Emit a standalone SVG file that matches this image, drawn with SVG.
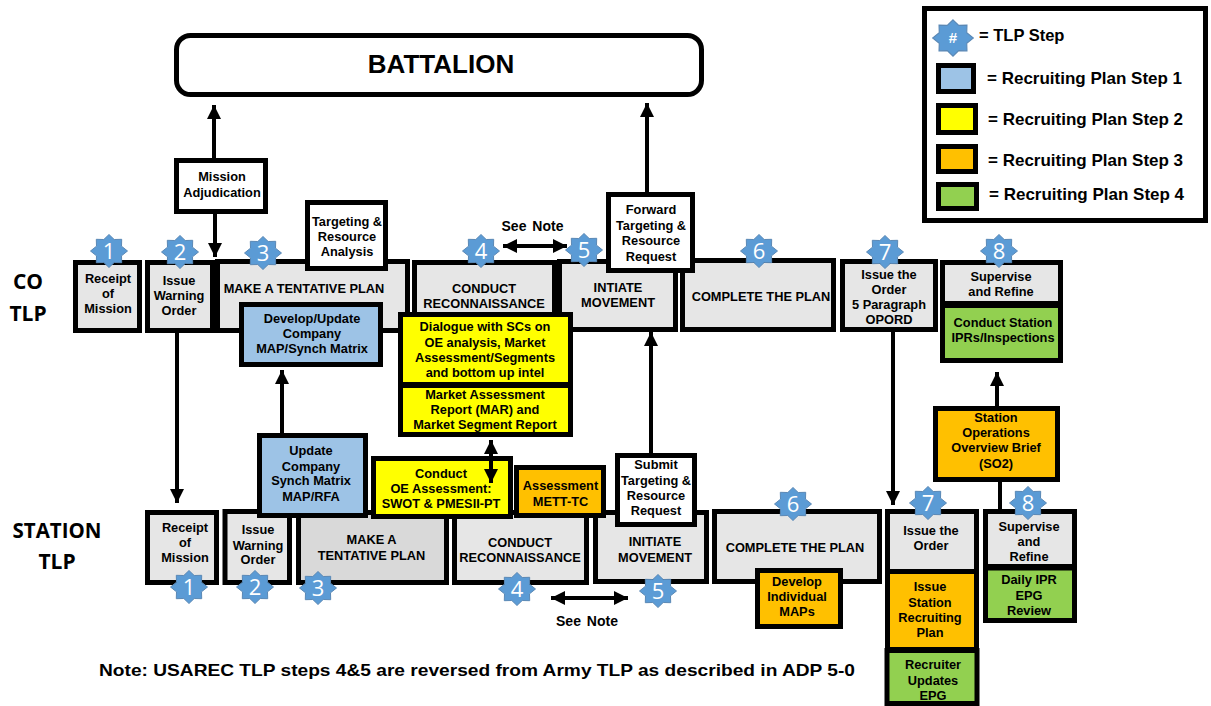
<svg xmlns="http://www.w3.org/2000/svg" width="1211" height="706" viewBox="0 0 1211 706">
<style>
rect{stroke:#000;stroke-width:5}
.w{fill:#fff}.g{fill:#e6e6e6}.d{fill:#d9d9d9}.b{fill:#9dc3e6}.y{fill:#ff0}.o{fill:#ffc000}.n{fill:#92d050}
text{font-family:"Liberation Sans",Arial,sans-serif;font-weight:700;font-size:12.800px;fill:#000;text-anchor:middle}
.leg{font-size:17px;text-anchor:start}
.big{font-family:"Open Sans","Noto Sans",sans-serif;font-size:21px;font-weight:700}
.num{font-family:"Open Sans","Noto Sans",sans-serif;font-weight:400;font-size:22px;fill:#fff}
.c line{stroke:#000;stroke-width:4;fill:none}
</style>
<defs>
<marker id="a" markerUnits="userSpaceOnUse" markerWidth="14" markerHeight="14" viewBox="0 0 14 14" refX="14" refY="7" orient="auto-start-reverse"><path d="M0 0L14 7L0 14Z" fill="#000"/></marker>
<polygon id="s" points="0,-16.500 5.200,-11.500 12.700,-11.700 12.500,-4.800 18.500,0 12.500,4.800 12.700,11.700 5.200,11.500 0,16.500 -5.200,11.500 -12.700,11.700 -12.500,4.800 -18.500,0 -12.500,-4.800 -12.700,-11.700 -5.200,-11.500" fill="#5b9bd5" stroke="#5a88b5" stroke-width="1"/>
</defs>
<rect width="1211" height="706" fill="#fff" style="stroke:none"/>

<g id="connectors" class="c">
<line x1="214" y1="158" x2="214" y2="105" marker-end="url(#a)"/>
<line x1="215" y1="214" x2="215" y2="257" marker-end="url(#a)"/>
<line x1="177" y1="333" x2="177" y2="503" marker-end="url(#a)"/>
<line x1="282" y1="433" x2="282" y2="370" marker-end="url(#a)"/>
<line x1="647" y1="192" x2="647" y2="103" marker-end="url(#a)"/>
<line x1="651" y1="453" x2="651" y2="332" marker-end="url(#a)"/>
<line x1="893" y1="332" x2="893" y2="505" marker-end="url(#a)"/>
<line x1="997" y1="406" x2="997" y2="372" marker-end="url(#a)"/>
<line x1="1000" y1="482" x2="1000" y2="509"/>
<line x1="491" y1="440" x2="491" y2="483" marker-start="url(#a)" marker-end="url(#a)"/>
<line x1="503" y1="246" x2="567" y2="246" marker-start="url(#a)" marker-end="url(#a)"/>
<line x1="551" y1="598" x2="628" y2="598" marker-start="url(#a)" marker-end="url(#a)"/>
</g>

<g id="battalion"><rect class="w" x="176.500" y="35.500" width="525" height="59" rx="14"/><text x="441" y="73" style="font-size:26px">BATTALION</text></g>

<g id="co-label"><text class="big" x="28" y="289">CO</text><text class="big" x="28" y="321">TLP</text></g>
<g id="station-label"><text class="big" x="57" y="538" textLength="89" lengthAdjust="spacingAndGlyphs">STATION</text><text class="big" x="57" y="569">TLP</text></g>

<g id="co-receipt"><rect class="g" x="75.500" y="262.500" width="64" height="68"/><text x="108" y="283">Receipt</text><text x="108" y="298">of</text><text x="108" y="313">Mission</text></g>
<g id="co-warning"><rect class="g" x="147.500" y="262.500" width="65" height="68"/><text x="179" y="285">Issue</text><text x="179" y="300">Warning</text><text x="179" y="315">Order</text></g>
<g id="co-plan"><rect class="g" x="217.500" y="261.500" width="190" height="69"/><text x="304" y="293">MAKE A TENTATIVE PLAN</text></g>
<g id="co-recon"><rect class="g" x="414.500" y="262.500" width="140" height="68"/><text x="484" y="293">CONDUCT</text><text x="484" y="308">RECONNAISSANCE</text></g>
<g id="co-move"><rect class="g" x="559.500" y="261.500" width="116" height="68"/><text x="618" y="292">INTIATE</text><text x="618" y="307">MOVEMENT</text></g>
<g id="co-complete"><rect class="g" x="682.500" y="260.500" width="151" height="69"/><text x="761" y="301">COMPLETE THE PLAN</text></g>
<g id="co-order"><rect class="g" x="842.500" y="261.500" width="93" height="68"/><text x="889" y="279">Issue the</text><text x="889" y="294">Order</text><text x="889" y="309">5 Paragraph</text><text x="889" y="324">OPORD</text></g>
<g id="co-supervise"><rect class="g" x="942.500" y="262.500" width="118" height="41"/><text x="1001" y="281">Supervise</text><text x="1001" y="296">and Refine</text></g>
<g id="co-ipr"><rect class="n" x="942.500" y="305.500" width="118" height="55"/><text x="1003" y="327">Conduct Station</text><text x="1003" y="342">IPRs/Inspections</text></g>
<g id="co-mission-adj"><rect class="w" x="176.500" y="160.500" width="89" height="51"/><text x="222" y="181">Mission</text><text x="222" y="197">Adjudication</text></g>
<g id="co-targeting"><rect class="w" x="307.500" y="202.500" width="78" height="66"/><text x="347" y="226">Targeting &amp;</text><text x="347" y="241">Resource</text><text x="347" y="256">Analysis</text></g>
<g id="co-forward"><rect class="w" x="608.500" y="194.500" width="84" height="76"/><text x="651" y="214">Forward</text><text x="651" y="230">Targeting &amp;</text><text x="651" y="245">Resource</text><text x="651" y="261">Request</text></g>
<g id="co-develop"><rect class="b" x="241.500" y="304.500" width="139" height="60"/><text x="312" y="323">Develop/Update</text><text x="312" y="338">Company</text><text x="312" y="353">MAP/Synch Matrix</text></g>
<g id="co-dialogue"><rect class="y" x="400.500" y="314.500" width="170" height="70"/><text x="485" y="331">Dialogue with SCs on</text><text x="485" y="347">OE analysis, Market</text><text x="485" y="362">Assessment/Segments</text><text x="485" y="377">and bottom up intel</text></g>
<g id="co-mar"><rect class="y" x="400.500" y="385.500" width="170" height="49"/><text x="485" y="399">Market Assessment</text><text x="485" y="414">Report (MAR) and</text><text x="485" y="429">Market Segment Report</text></g>

<g id="st-receipt"><rect class="g" x="147.500" y="512.500" width="69" height="70"/><text x="185" y="532">Receipt</text><text x="185" y="547">of</text><text x="185" y="562">Mission</text></g>
<g id="st-warning"><rect class="g" x="225" y="511.500" width="64.500" height="71"/><text x="258" y="534">Issue</text><text x="258" y="550">Warning</text><text x="258" y="564">Order</text></g>
<g id="st-plan"><rect class="d" x="298.500" y="512.500" width="148" height="70"/><text x="371.500" y="544">MAKE A</text><text x="371.500" y="560">TENTATIVE PLAN</text></g>
<g id="st-recon"><rect class="g" x="454.500" y="512.500" width="132" height="70"/><text x="520" y="547">CONDUCT</text><text x="520" y="562">RECONNAISSANCE</text></g>
<g id="st-move"><rect class="g" x="595.500" y="512.500" width="111" height="69"/><text x="655" y="546">INITIATE</text><text x="655" y="562">MOVEMENT</text></g>
<g id="st-complete"><rect class="g" x="714.500" y="511.500" width="165" height="70"/><text x="795" y="552">COMPLETE THE PLAN</text></g>
<g id="st-develop"><rect class="o" x="757.500" y="570.500" width="83" height="56"/><text x="797" y="586">Develop</text><text x="797" y="601">Individual</text><text x="797" y="616">MAPs</text></g>
<g id="st-order"><rect class="g" x="887.500" y="511.500" width="89" height="60"/><text x="931" y="535">Issue the</text><text x="931" y="550">Order</text></g>
<g id="st-issue-plan"><rect class="o" x="887.500" y="571.500" width="89" height="78"/><text x="930" y="591">Issue</text><text x="930" y="607">Station</text><text x="930" y="622">Recruiting</text><text x="930" y="637">Plan</text></g>
<g id="st-updates"><rect class="n" x="887" y="650.500" width="90" height="53"/><text x="933" y="669">Recruiter</text><text x="933" y="685">Updates</text><text x="933" y="700">EPG</text></g>
<g id="st-supervise"><rect class="g" x="985.500" y="511.500" width="89" height="55"/><text x="1029" y="531">Supervise</text><text x="1029" y="546">and</text><text x="1029" y="561">Refine</text></g>
<g id="st-daily"><rect class="n" x="985.500" y="568" width="89" height="52.500"/><text x="1029" y="584">Daily IPR</text><text x="1029" y="600">EPG</text><text x="1029" y="615">Review</text></g>
<g id="st-ops"><rect class="o" x="935.500" y="408.500" width="122" height="71"/><text x="996" y="422">Station</text><text x="996" y="437">Operations</text><text x="996" y="452">Overview Brief</text><text x="996" y="468">(SO2)</text></g>
<g id="st-submit"><rect class="w" x="617.500" y="455.500" width="77" height="69"/><text x="656" y="469">Submit</text><text x="656" y="485">Targeting &amp;</text><text x="656" y="500">Resource</text><text x="656" y="515">Request</text></g>
<g id="st-update"><rect class="b" x="259.500" y="435.500" width="106" height="80"/><text x="311" y="455">Update</text><text x="311" y="471">Company</text><text x="311" y="485">Synch Matrix</text><text x="311" y="501">MAP/RFA</text></g>
<g id="st-oe"><rect class="y" x="373.500" y="458.500" width="137" height="58"/><text x="441" y="478">Conduct</text><text x="441" y="493">OE Assessment:</text><text x="441" y="508">SWOT &amp; PMESII-PT</text></g>
<g id="st-assess"><rect class="o" x="516.500" y="467.500" width="87" height="48"/><text x="560.500" y="490">Assessment</text><text x="560.500" y="506">METT-TC</text></g>
<g id="connectors-top" class="c"><line x1="491" y1="456" x2="491" y2="483" marker-end="url(#a)"/></g>

<g id="co-steps">
<g id="co-step-1"><use href="#s" x="109" y="251"/><text class="num" x="109" y="259">1</text></g>
<g id="co-step-2"><use href="#s" x="180" y="252"/><text class="num" x="180" y="260">2</text></g>
<g id="co-step-3"><use href="#s" x="263" y="253"/><text class="num" x="263" y="261">3</text></g>
<g id="co-step-4"><use href="#s" x="481" y="251"/><text class="num" x="481" y="259">4</text></g>
<g id="co-step-5"><use href="#s" x="584" y="250"/><text class="num" x="584" y="258">5</text></g>
<g id="co-step-6"><use href="#s" x="759" y="251"/><text class="num" x="759" y="259">6</text></g>
<g id="co-step-7"><use href="#s" x="885" y="252"/><text class="num" x="885" y="260">7</text></g>
<g id="co-step-8"><use href="#s" x="999" y="251"/><text class="num" x="999" y="259">8</text></g>
</g>
<g id="st-steps">
<g id="st-step-1"><use href="#s" x="189" y="587"/><text class="num" x="189" y="595">1</text></g>
<g id="st-step-2"><use href="#s" x="255" y="587"/><text class="num" x="255" y="595">2</text></g>
<g id="st-step-3"><use href="#s" x="318" y="588"/><text class="num" x="318" y="596">3</text></g>
<g id="st-step-4"><use href="#s" x="517" y="589"/><text class="num" x="517" y="597">4</text></g>
<g id="st-step-5"><use href="#s" x="658" y="591"/><text class="num" x="658" y="599">5</text></g>
<g id="st-step-6"><use href="#s" x="793" y="504"/><text class="num" x="793" y="512">6</text></g>
<g id="st-step-7"><use href="#s" x="928" y="503"/><text class="num" x="928" y="511">7</text></g>
<g id="st-step-8"><use href="#s" x="1028" y="503"/><text class="num" x="1028" y="511">8</text></g>
</g>

<g id="see-note-co"><text x="532.500" y="231" style="font-size:14px;word-spacing:2px">See  Note</text></g>
<g id="see-note-st"><text x="587" y="626" style="font-size:14px;word-spacing:2px">See  Note</text></g>
<g id="note"><text x="477" y="676" style="font-size:16.500px" textLength="756" lengthAdjust="spacingAndGlyphs">Note: USAREC TLP steps 4&amp;5 are reversed from Army TLP as described in ADP 5-0</text></g>

<g id="legend">
<rect class="w" x="924.500" y="8.500" width="281" height="212"/>
<use href="#s" transform="translate(953 38) scale(1.1)"/><text x="953" y="43" style="fill:#fff;font-size:15px">#</text>
<text class="leg" x="979" y="41" style="font-size:16.500px">= TLP Step</text>
<rect class="b" x="938.500" y="65.500" width="35" height="26"/><text class="leg" x="987" y="84">= Recruiting Plan Step 1</text>
<rect class="y" x="938.500" y="105.500" width="37" height="27"/><text class="leg" x="988" y="125">= Recruiting Plan Step 2</text>
<rect class="o" x="938.500" y="146.500" width="37" height="25"/><text class="leg" x="988" y="166">= Recruiting Plan Step 3</text>
<rect class="n" x="938.500" y="184.500" width="38" height="24"/><text class="leg" x="989" y="200">= Recruiting Plan Step 4</text>
</g>
</svg>
